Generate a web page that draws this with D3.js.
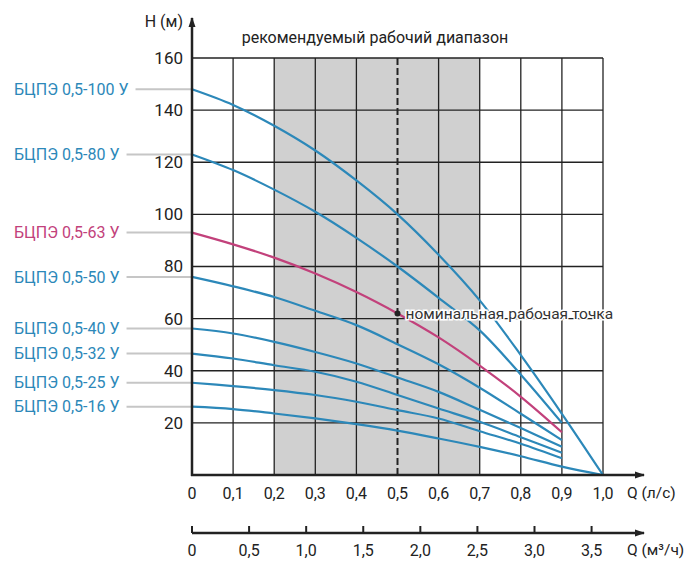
<!DOCTYPE html>
<html>
<head>
<meta charset="utf-8">
<script src="https://cdn.jsdelivr.net/npm/d3@7"></script>
<style>
  body { margin: 0; background: #fff; }
  text { font-family: Roboto, "Noto Sans", sans-serif; }
</style>
</head>
<body>
<svg id="chart" width="696" height="574"></svg>
<script>
// flow, l/s
const flow = [0, 0.1, 0.2, 0.3, 0.4, 0.5, 0.6, 0.7, 0.8, 0.9, 1.0];

// pump head curves (m)
const pumps = ["БЦПЭ 0,5-100 У", "БЦПЭ 0,5-80 У", "БЦПЭ 0,5-63 У", "БЦПЭ 0,5-50 У",
               "БЦПЭ 0,5-40 У", "БЦПЭ 0,5-32 У", "БЦПЭ 0,5-25 У", "БЦПЭ 0,5-16 У"];
const head100 = [148, 142, 134, 124.5, 113, 100, 84.5, 67, 46, 23.5, 0];
const head80  = [123, 117, 109.5, 101, 91, 80, 68, 55.5, 38.5, 20];
const head63  = [93, 88.5, 83.4, 77.3, 70.2, 62, 52.8, 42, 30, 16.4];
const head50  = [76, 72.4, 68.3, 63, 57.5, 50.2, 42.5, 33.5, 23.5, 13.4];
const head40  = [56.2, 54.3, 51.1, 47.2, 42.8, 37.4, 31.9, 25, 18, 10.8];
const head32  = [46.6, 44.7, 42.1, 39.6, 35.8, 30.7, 25.5, 20.4, 14.5, 8.5];
const head25  = [35.4, 34.1, 32.6, 30.7, 28.1, 24.9, 21.7, 16.8, 12, 6.4];
const head16  = [26.2, 25.3, 23.6, 21.7, 19.5, 17, 14, 10.8, 7.2, 3.2, 0];
const heads = [head100, head80, head63, head50, head40, head32, head25, head16];
const highlighted = "БЦПЭ 0,5-63 У";

// axis ticks
const qTicks = [0, 0.1, 0.2, 0.3, 0.4, 0.5, 0.6, 0.7, 0.8, 0.9, 1.0];
const qm3Ticks = [0, 0.5, 1.0, 1.5, 2.0, 2.5, 3.0, 3.5];
const hTicks = [20, 40, 60, 80, 100, 120, 140, 160];
const band = [0.2, 0.7];
const nominal = { q: 0.5, h: 62 };

const blue = "#2c88b9", pink = "#c2417b", ink = "#222";
const fmt = v => d3.format(".1f")(v).replace(".", ",");

const svg = d3.select("#chart");
const x = d3.scaleLinear().domain([0, 1]).range([192, 603]);
const x2 = d3.scaleLinear().domain([0, 3.6]).range([192, 603]);
const y = d3.scaleLinear().domain([0, 160]).range([475, 58]);

// arrow marker
svg.append("defs").append("marker")
  .attr("id", "arr").attr("viewBox", "0 0 10 10")
  .attr("refX", 9).attr("refY", 5)
  .attr("markerWidth", 10).attr("markerHeight", 10)
  .attr("markerUnits", "userSpaceOnUse").attr("orient", "auto")
  .append("path").attr("d", "M0,1.5 L10,5 L0,8.5 Z").attr("fill", ink);

// recommended range band
svg.append("rect")
  .attr("x", x(band[0])).attr("y", y(160))
  .attr("width", x(band[1]) - x(band[0])).attr("height", y(0) - y(160))
  .attr("fill", "#d0d0d0");

svg.append("text")
  .attr("x", (x(band[0]) + x(band[1])) / 2 - 2).attr("y", 43)
  .attr("text-anchor", "middle").attr("font-size", 16).attr("fill", ink)
  .text("рекомендуемый рабочий диапазон");

// grid
svg.append("g").selectAll("line").data(hTicks).join("line")
  .attr("x1", x(0)).attr("x2", x(1)).attr("y1", d => y(d)).attr("y2", d => y(d))
  .attr("stroke", ink).attr("stroke-width", 1.3);
svg.append("g").selectAll("line").data(qTicks.slice(1).filter(d => d !== 0.5)).join("line")
  .attr("x1", d => x(d)).attr("x2", d => x(d)).attr("y1", y(0)).attr("y2", y(160))
  .attr("stroke", ink).attr("stroke-width", 1.3);
svg.append("line")
  .attr("x1", x(0.5)).attr("x2", x(0.5)).attr("y1", y(0)).attr("y2", y(160))
  .attr("stroke", ink).attr("stroke-width", 2).attr("stroke-dasharray", "7,3");

const leaders = svg.append("g");

// curves
const line = d3.line().curve(d3.curveCatmullRom.alpha(0.5));
pumps.forEach((name, i) => {
  const pts = heads[i].map((h, j) => [x(flow[j]), y(h)]);
  svg.append("path")
    .attr("d", line(pts)).attr("fill", "none")
    .attr("stroke", name === highlighted ? pink : blue)
    .attr("stroke-width", 2.2);
});

// series labels with leader lines
pumps.forEach((name, i) => {
  const yy = y(heads[i][0]);
  const t = svg.append("text")
    .attr("x", 14).attr("y", yy).attr("dy", "0.35em")
    .attr("font-size", 16).attr("fill", name === highlighted ? pink : blue)
    .text(name);
  const w = t.node().getComputedTextLength();
  leaders.append("line")
    .attr("x1", 14 + w + 7).attr("x2", x(0)).attr("y1", yy).attr("y2", yy)
    .attr("stroke", "#c6c6c6").attr("stroke-width", 2);
});

// nominal point
svg.append("circle").attr("cx", x(nominal.q)).attr("cy", y(nominal.h)).attr("r", 3).attr("fill", ink);
svg.append("text")
  .attr("x", x(nominal.q) + 8).attr("y", y(nominal.h)).attr("dy", "0.35em")
  .attr("font-size", 15.5).attr("fill", "#333")
  .attr("stroke", "#fff").attr("stroke-width", 3).attr("paint-order", "stroke")
  .text("номинальная рабочая точка");

// axes
svg.append("line").attr("x1", x(0)).attr("x2", x(0)).attr("y1", y(0) + 1).attr("y2", 18)
  .attr("stroke", ink).attr("stroke-width", 2.5).attr("marker-end", "url(#arr)");
svg.append("line").attr("x1", x(0) - 1).attr("x2", 644).attr("y1", y(0)).attr("y2", y(0))
  .attr("stroke", ink).attr("stroke-width", 2.5).attr("marker-end", "url(#arr)");

svg.append("g").selectAll("text").data(hTicks).join("text")
  .attr("x", 183).attr("y", d => y(d)).attr("dy", "0.35em")
  .attr("text-anchor", "end").attr("font-size", 17).attr("fill", ink)
  .text(d => d);
svg.append("text").attr("x", 183).attr("y", 21).attr("dy", "0.35em")
  .attr("text-anchor", "end").attr("font-size", 16).attr("fill", ink).text("H (м)");

svg.append("g").selectAll("text").data(qTicks).join("text")
  .attr("x", d => x(d)).attr("y", 493).attr("dy", "0.35em")
  .attr("text-anchor", "middle").attr("font-size", 16).attr("fill", ink)
  .text(d => d === 0 ? "0" : fmt(d));
svg.append("text").attr("x", 627).attr("y", 493).attr("dy", "0.35em")
  .attr("font-size", 15.5).attr("fill", ink).text("Q (л/с)");

// second flow axis, m3/h
const y2 = 533;
svg.append("line").attr("x1", x2(0)).attr("x2", 644).attr("y1", y2).attr("y2", y2)
  .attr("stroke", ink).attr("stroke-width", 2.5).attr("marker-end", "url(#arr)");
svg.append("g").selectAll("line").data(qm3Ticks).join("line")
  .attr("x1", d => x2(d)).attr("x2", d => x2(d)).attr("y1", y2).attr("y2", y2 - 7)
  .attr("stroke", ink).attr("stroke-width", 2);
svg.append("g").selectAll("text").data(qm3Ticks).join("text")
  .attr("x", d => x2(d)).attr("y", 550).attr("dy", "0.35em")
  .attr("text-anchor", "middle").attr("font-size", 16).attr("fill", ink)
  .text(d => d === 0 ? "0" : fmt(d));
svg.append("text").attr("x", 627).attr("y", 550).attr("dy", "0.35em")
  .attr("font-size", 15.5).attr("fill", ink).text("Q (м³/ч)");
</script>
</body>
</html>
